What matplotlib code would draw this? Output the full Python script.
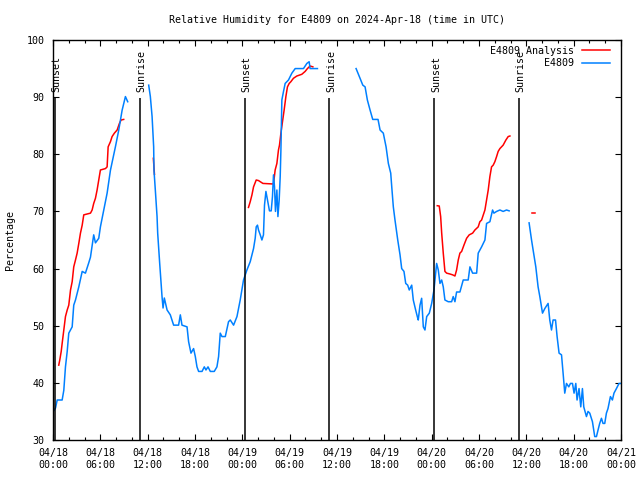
import numpy as np
import matplotlib
matplotlib.use("Agg")
import matplotlib.pyplot as plt

plt.rcParams['font.family'] = ['DejaVu Sans Mono']
plt.rcParams['font.size'] = 7.2

title = "Relative Humidity for E4809 on 2024-Apr-18 (time in UTC)"
ylabel = "Percentage"
label_obs = "E4809"
label_ana = "E4809 Analysis"

# hours since 2024-04-18 00:00 UTC
obs_t1 = [0.03, 0.32, 0.53, 1.16, 1.37, 1.58, 1.8, 2.0, 2.43, 2.63, 2.85, 3.27, 3.7, 4.11, 4.53, 4.75, 4.96,
          5.16, 5.38, 5.8, 6.01, 6.86, 7.28, 7.91, 8.33, 8.76, 9.18, 9.47]
obs_v1 = [35, 35.6, 37, 37, 38.7, 42.8, 45.5, 48.7, 49.8, 53.6, 54.5, 56.8, 59.5, 59.2, 61, 62, 64,
          65.9, 64.5, 65.3, 67.3, 73.2, 77.2, 81.3, 84.2, 87.7, 90.1, 89.2]

obs_t2 = [12.13, 12.34, 12.56, 12.76, 12.8, 12.97, 13.19, 13.27, 13.52, 13.82, 13.95, 14.11, 14.46, 14.87,
          15.29, 15.92, 16.14, 16.35, 16.99, 17.19, 17.49, 17.82, 18.04, 18.25, 18.46, 18.89, 19.18, 19.39,
          19.65, 19.94, 20.44, 20.78, 20.99, 21.2, 21.42, 21.84, 22.25, 22.47, 22.89, 23.32, 23.73, 24.15,
          24.58, 25.0, 25.42, 25.63, 25.76, 25.92, 26.05, 26.27, 26.48, 26.68, 26.81, 26.99, 27.19, 27.44,
          27.66, 27.82, 27.95, 28.08, 28.2, 28.38, 28.51, 28.67, 28.8, 28.89, 29.01, 29.22, 29.43, 29.85,
          30.28, 30.7, 31.75, 32.18, 32.47, 32.59, 33.52]
obs_v2 = [92.1, 90.1, 86.6, 81.3, 77.25, 73.75, 69.1, 66.2, 61, 55.1, 53.1, 54.85, 52.75, 51.9,
          50.1, 50.1, 51.9, 50.1, 49.8, 47.2, 45.2, 46, 44.6, 42.8, 42, 42, 42.8, 42.25,
          42.8, 42, 42, 42.8, 44.6, 48.7, 48.1, 48.1, 50.7, 51, 50.1, 51.6, 54.5, 58,
          59.75, 61.2, 63.5, 65.3, 67.3, 67.6, 66.75, 65.9, 65, 65.9, 71.1, 73.5, 72, 70.1,
          70.1, 72.6, 76.4, 74.3, 70, 73.75, 69.1, 72, 76.1, 80.75, 89.5, 91, 92.4, 93,
          94.2, 95, 95, 95.9, 96.2, 95, 95]

obs_t3 = [38.42, 38.92, 39.27, 39.56, 39.85, 40.19, 40.53, 41.2, 41.46, 41.87, 42.22, 42.51, 42.81, 42.94,
          43.14, 43.35, 43.7, 43.99, 44.2, 44.49, 44.71, 44.96, 45.16, 45.47, 45.67, 45.97, 46.18, 46.3,
          46.52, 46.73, 46.94, 47.15, 47.37, 47.7, 48.0, 48.29, 48.42, 48.63, 48.84, 49.05, 49.27, 49.47,
          49.68, 50.1, 50.53, 50.73, 50.95, 51.16, 51.58, 52.0, 52.63, 52.85, 53.19, 53.7, 53.9, 54.33,
          54.75, 54.96, 55.38, 55.72, 55.89, 56.23, 56.65, 57.06, 57.49, 57.82]
obs_v3 = [95, 93.3, 92.1, 91.8, 89.5, 87.75, 86.1, 86.1, 84.25, 83.7, 81.3, 78.4, 76.7, 74.3,
          70.8, 68.5, 65, 62.4, 60, 59.5, 57.4, 57.1, 56.25, 57.1, 54.5, 52.75, 51.6, 51,
          53.6, 54.8, 49.8, 49.25, 51.6, 52.2, 53.9, 56.25, 58, 60.9, 59.75, 57.4, 58, 56.8,
          54.5, 54.2, 54.2, 55.1, 54.2, 55.9, 55.9, 58, 58, 60.3, 59.2, 59.2, 62.7, 63.8,
          65, 67.9, 68.2, 70.25, 69.7, 70, 70.25, 70, 70.25, 70.1]

obs_t4 = [60.35, 60.66, 60.86, 61.2, 61.49, 61.71, 62.05, 62.34, 62.76, 62.97, 63.19, 63.39, 63.7, 63.9,
          64.15, 64.46, 64.66, 64.87, 65.09, 65.38, 65.59, 65.85, 66.05, 66.27, 66.43, 66.68, 66.9, 67.11,
          67.28, 67.62, 67.82, 68.04, 68.38, 68.67, 68.89, 69.09, 69.3, 69.52, 69.72, 69.94, 70.15, 70.35,
          70.66, 70.91, 71.11, 71.42, 71.75, 71.92]
obs_v4 = [68, 65, 63.25, 60.3, 56.8, 55.1, 52.2, 53, 53.9, 51, 49.25, 51, 51, 48.1,
          45.2, 44.9, 41.7, 38.2, 39.9, 39.3, 39.9, 39.9, 38.2, 39.9, 37, 39, 35.8, 39,
          35.8, 34.1, 35, 34.7, 33.2, 30.6, 30.6, 31.75, 32.9, 33.8, 32.9, 32.9, 34.7, 35.5,
          37.6, 37, 38.2, 39, 39.9, 39.9]

ana_t1 = [0.73, 0.86, 1.04, 1.16, 1.37, 1.58, 1.8, 2.0, 2.22, 2.43, 2.63, 2.85, 3.06, 3.27, 3.48, 3.7, 3.9,
          4.75, 4.96, 5.16, 5.38, 5.59, 5.8, 6.01, 6.65, 6.86, 6.99, 7.28, 7.49, 7.78, 8.13, 8.42, 8.63, 8.96]
ana_v1 = [43.1, 44, 45.5, 46.9, 49.25, 51.6, 52.75, 53.6, 56.25, 57.7, 60.3, 61.5, 62.7, 64.4, 66.2, 67.6, 69.4,
          69.7, 70.25, 71.4, 72.3, 73.75, 75.5, 77.25, 77.5, 77.8, 81.3, 82.2, 83.1, 83.7, 84.25, 85.4, 86, 86.1]

ana_t2 = [12.72, 12.86]
ana_v2 = [79.3, 76.5]

ana_t3 = [24.78, 25.0, 25.22, 25.42, 25.76, 26.05, 26.61, 27.95, 28.16, 28.38, 28.58, 28.71, 28.89, 29.09,
          29.3, 29.52, 29.72, 29.94, 30.15, 30.48, 30.91, 31.54, 31.96, 32.25, 32.59, 32.94]
ana_v3 = [70.7, 71.7, 72.9, 74.3, 75.5, 75.4, 74.9, 74.8, 77.25, 78.4, 80.75, 81.6, 83.7, 85.7,
          87.75, 90.1, 91.8, 92.4, 92.7, 93.3, 93.7, 94, 94.5, 95, 95.45, 95.3]

ana_t4 = [48.71, 48.96, 49.14, 49.27, 49.47, 49.68, 49.9, 50.32, 50.66, 50.95, 51.16, 51.37, 51.58, 51.8,
          52.09, 52.43, 52.76, 53.19, 53.48, 53.9, 54.11, 54.33, 54.75, 54.96, 55.17, 55.38, 55.59, 55.8,
          56.01, 56.23, 56.43, 56.65, 57.06, 57.41, 57.7, 57.92]
ana_v4 = [71, 70.95, 69.1, 66.2, 62.7, 59.5, 59.2, 59.05, 58.9, 58.7, 59.75, 61.5, 62.7, 63,
          64.1, 65.3, 65.9, 66.2, 66.75, 67.3, 68.2, 68.5, 70.25, 72, 73.75, 76.1, 77.8, 78.1,
          78.7, 79.6, 80.5, 81, 81.6, 82.5, 83.1, 83.2]

ana_t5 = [60.73, 61.08]
ana_v5 = [69.7, 69.7]

sun_t = [0.23, 10.97, 24.28, 35.02, 48.33, 59.06]
sun_label = ["Sunset", "Sunrise", "Sunset", "Sunrise", "Sunset", "Sunrise"]

xtick_pos = [0, 6, 12, 18, 24, 30, 36, 42, 48, 54, 60, 66, 72]
xtick_lbl = ["04/18\n00:00", "04/18\n06:00", "04/18\n12:00", "04/18\n18:00",
             "04/19\n00:00", "04/19\n06:00", "04/19\n12:00", "04/19\n18:00",
             "04/20\n00:00", "04/20\n06:00", "04/20\n12:00", "04/20\n18:00",
             "04/21\n00:00"]
ytick_pos = [30, 40, 50, 60, 70, 80, 90, 100]

RED = "#ff0000"
BLUE = "#0080ff"

fig = plt.figure(figsize=(6.4, 4.8), dpi=100)
ax = fig.add_axes([53/640, 40/480, 568/640, 400/480])

for i, (t, v) in enumerate([(ana_t1, ana_v1), (ana_t2, ana_v2), (ana_t3, ana_v3), (ana_t4, ana_v4), (ana_t5, ana_v5)]):
    ax.plot(t, v, color=RED, lw=1.1, label=label_ana if i == 0 else None)
for i, (t, v) in enumerate([(obs_t1, obs_v1), (obs_t2, obs_v2), (obs_t3, obs_v3), (obs_t4, obs_v4)]):
    ax.plot(t, v, color=BLUE, lw=1.1, label=label_obs if i == 0 else None)

for t, lab in zip(sun_t, sun_label):
    ax.vlines(t, 30, 89.8, color="black", lw=1.1)
    ax.text(t + 0.22, 90.9, lab, rotation=90, ha="center", va="bottom", fontsize=7.2)

ax.set_xlim(0, 72)
ax.set_ylim(30, 100)
ax.set_xticks(xtick_pos)
ax.set_xticklabels(xtick_lbl)
ax.set_xticks(np.arange(0, 73, 2), minor=True)
ax.set_yticks(ytick_pos)
ax.tick_params(axis="both", which="major", direction="in", length=4.5, width=0.8,
               top=True, right=True, labelsize=7.2)
ax.tick_params(axis="both", which="minor", direction="in", length=2.5, width=0.8,
               top=True, right=True)
ax.tick_params(axis="x", which="major", pad=6)
ax.tick_params(axis="y", which="major", pad=6)
for s in ax.spines.values():
    s.set_linewidth(1.0)

ax.set_title(title, fontsize=7.2, pad=12)
ax.set_ylabel(ylabel, fontsize=7.2)
ax.yaxis.set_label_coords(-0.067, 0.5)

ax.legend(loc="upper right", bbox_to_anchor=(1 - 5/568, 1.0), markerfirst=False, frameon=False,
          fontsize=7.2, handlelength=2.8, handletextpad=0.8, labelspacing=0.22,
          borderaxespad=0.3, borderpad=0.3)

fig.savefig("out.png", dpi=100)
